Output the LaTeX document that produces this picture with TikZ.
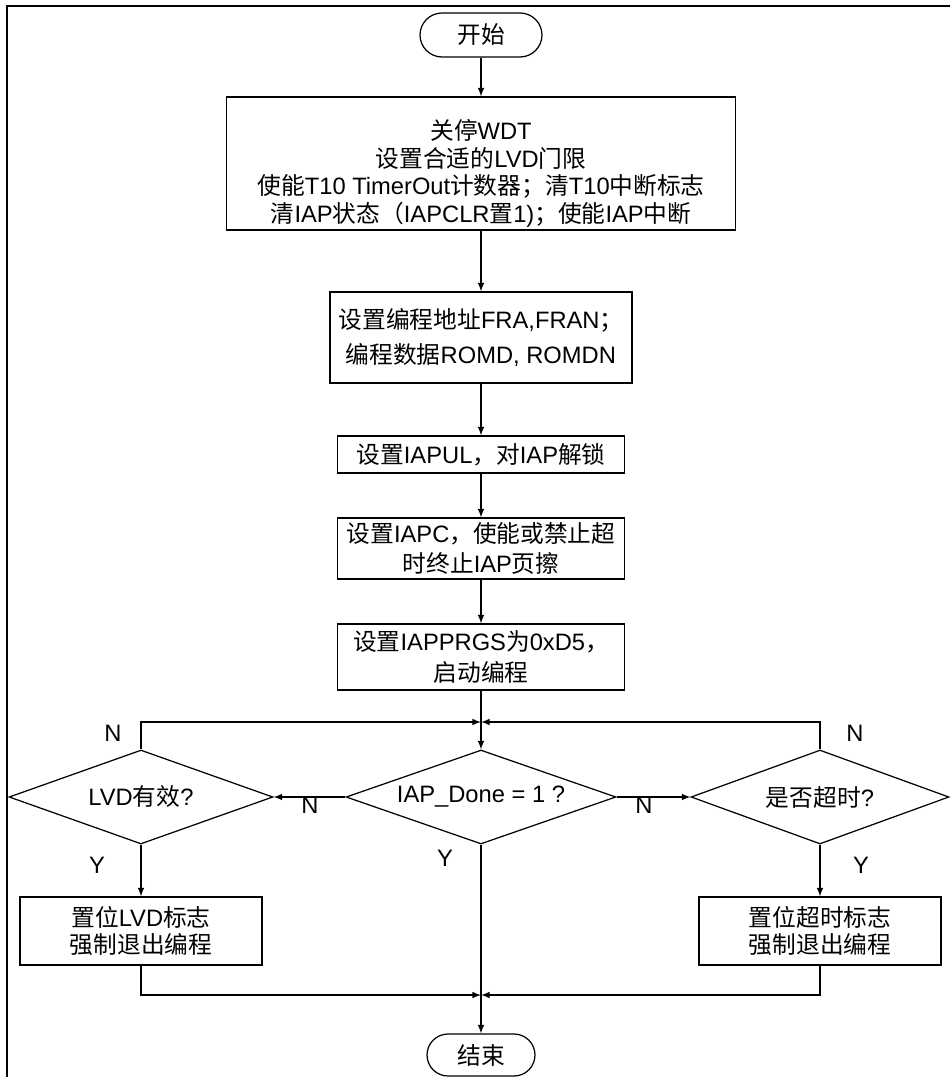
\documentclass[tikz,border=0pt]{standalone}
\usepackage{fontspec}
\setmainfont{Liberation Sans}
\newfontfamily\cjk{Noto Sans CJK SC}
\usetikzlibrary{shapes.geometric,positioning}
\newcommand\zhs[1]{{\cjk #1}}
\tikzset{
  flow schemes/.style = {
    x = 0.02cm, y = -0.02cm,
    line width = 0.7pt,
    font = \fontsize{13.5}{15.7}\selectfont,
    % terminals
    term/.style = {draw, rounded corners=0.42cm,
      minimum height=0.84cm, inner sep=0pt},
    % blocks
    blk/.style  = {draw, align=center, inner sep=0pt},
    % decisions
    dcs/.style  = {draw, diamond, shape aspect=2.85, inner sep=0pt,
      minimum height=1.88cm},
    % lines
    connect line/.style = {-latex},
    frame line/.style   = {line width=1.2pt},
    yn/.style = {inner sep=0pt},
  }
}

\begin{document}
\begin{tikzpicture}[flow schemes]
  \useasboundingbox (0,0) rectangle (950,1077);
  \draw[frame line] (950,6) -- (7,6) -- (7,1077);

  \node[term, minimum width=2.44cm, minimum height=0.88cm,
        rounded corners=0.44cm] (start) at (481,35) {\zhs{开始}};
  \node[blk, minimum width=10.18cm, minimum height=2.66cm] (init) at (481,163.5) {};
  \node[align=center, inner sep=0pt] (initxt) at ([yshift=-0.2cm]init.center)
    {\zhs{关停}WDT\\
     \zhs{设置合适的}LVD\zhs{门限}\\
     \zhs{使能}T10 TimerOut\zhs{计数器；清}T10\zhs{中断标志}\\
     \zhs{清}IAP\zhs{状态（}IAPCLR\zhs{置}1)\zhs{；使能}IAP\zhs{中断}};
  \node[blk, align=left, minimum width=6.04cm, minimum height=1.82cm] (addr) at (481,337.5)
    {\zhs{设置编程地址}FRA,FRAN\zhs{；}\\[4.5pt]
     \hspace*{0.3em}\zhs{编程数据}ROMD, ROMDN};
  \node[blk, minimum width=5.74cm, minimum height=0.74cm] (unlk) at (481,454.5)
    {\zhs{设置}IAPUL\zhs{，对}IAP\zhs{解锁}};
  \node[blk, minimum width=5.74cm, minimum height=1.22cm] (ctrl) at (481,548.5)
    {\zhs{设置}IAPC\zhs{，使能或禁止超}\\[1.5pt] \zhs{时终止}IAP\zhs{页擦}};
  \node[blk, minimum width=5.74cm, minimum height=1.32cm] (prog) at (481,657)
    {\zhs{设置}IAPPRGS\zhs{为}0xD5\zhs{，}\\[2pt] \zhs{启动编程}};

  \coordinate (jn) at (481,722);
  \node[dcs, minimum width=5.4cm]  (done) at (481,797) {IAP\_Done = 1 ?};
  \node[dcs, minimum width=5.28cm] (lvd)  at (141,797) {LVD\zhs{有效}?};
  \node[dcs, minimum width=5.16cm] (tmo)  at (820,797) {\zhs{是否超时}?};

  \node[blk, minimum width=4.84cm, minimum height=1.36cm] (lvdset) at (141,931)
    {\zhs{置位}LVD\zhs{标志}\\ \zhs{强制退出编程}};
  \node[blk, minimum width=4.84cm, minimum height=1.36cm] (tmoset) at (820,931)
    {\zhs{置位超时标志}\\ \zhs{强制退出编程}};

  \coordinate (mg) at (481,995);
  \node[term, minimum width=2.16cm] (stop) at (481,1055) {\zhs{结束}};

  % labels
  \node[yn] (nlvd)  at (113,733) {N};
  \node[yn] (ntmo)  at (855,733) {N};
  \node[yn] (nleft) at (310,805) {N};
  \node[yn] (nrght) at (644,805) {N};
  \node[yn] (ylvd)  at (97,865)  {Y};
  \node[yn] (ydone) at (445,858) {Y};
  \node[yn] (ytmo)  at (861,865) {Y};

  \draw[connect line] (start) -- (init);
  \draw[connect line] (init) -- (addr);
  \draw[connect line] (addr) -- (unlk);
  \draw[connect line] (unlk) -- (ctrl);
  \draw[connect line] (ctrl) -- (prog);
  \draw[connect line] (prog) -- (done);
  \draw[connect line] (lvd.north) |- (jn);
  \draw[connect line] (tmo.north) |- (jn);
  \draw[connect line] (done) -- (lvd);
  \draw[connect line] (done) -- (tmo);
  \draw[connect line] (lvd) -- (lvdset);
  \draw[connect line] (tmo) -- (tmoset);
  \draw[connect line] (done) -- (stop);
  \draw[connect line] (lvdset.south) |- (mg);
  \draw[connect line] (tmoset.south) |- (mg);
\end{tikzpicture}
\end{document}
